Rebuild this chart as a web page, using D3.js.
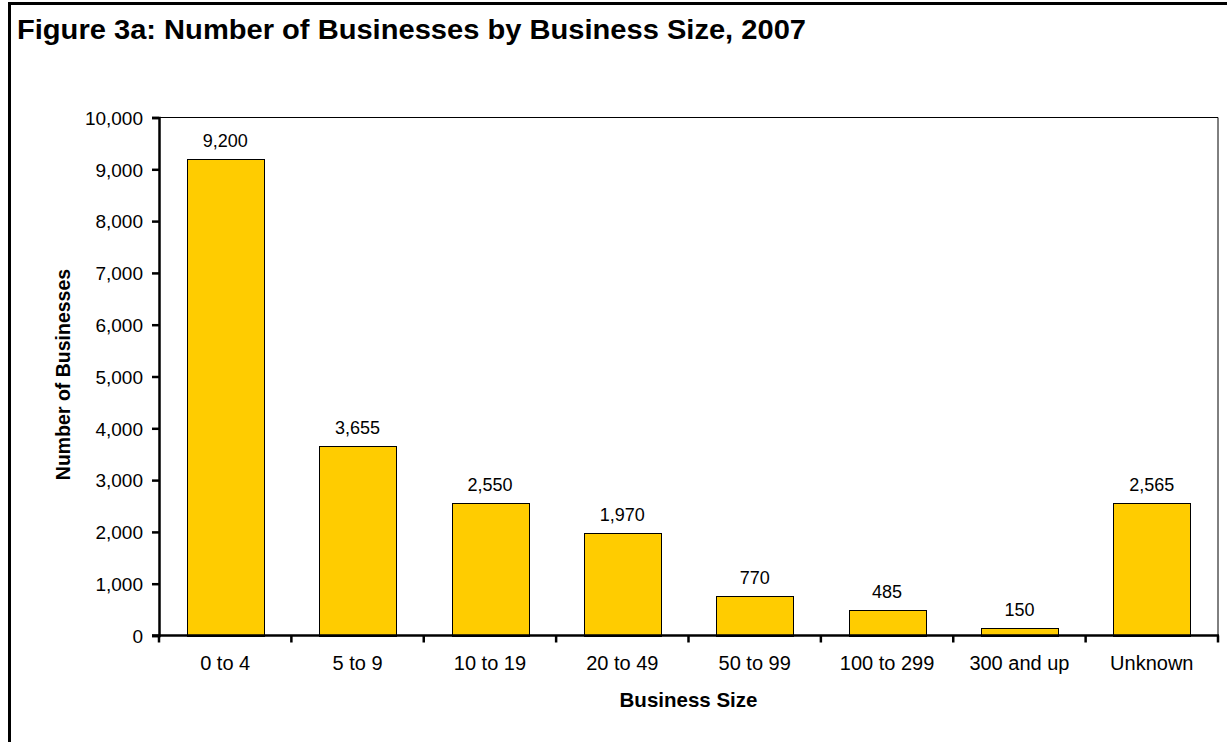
<!DOCTYPE html>
<html><head><meta charset="utf-8">
<script src="https://cdn.jsdelivr.net/npm/d3@7"></script>
<style>body{margin:0;background:#fff;}svg{display:block;font-family:"Liberation Sans",Arial,sans-serif;}</style>
</head><body>
<svg id="c" width="1227" height="742"></svg>
<script>
const categories = ["0 to 4","5 to 9","10 to 19","20 to 49","50 to 99","100 to 299","300 and up","Unknown"];
const values = [9200,3655,2550,1970,770,485,150,2565];
const yTicks = [0,1000,2000,3000,4000,5000,6000,7000,8000,9000,10000];
const titleText = "Figure 3a: Number of Businesses by Business Size, 2007";
const xTitle = "Business Size";
const yTitle = "Number of Businesses";

const svg = d3.select("#c");
const m = {l:159, r:1218, t:117.5, b:635.5};
const fmt = d3.format(",");

// outer frame
svg.append("rect").attr("x",9.5).attr("y",3.5).attr("width",1240).attr("height",760)
  .attr("fill","none").attr("stroke","#000").attr("stroke-width",3);

svg.append("text").attr("x",17).attr("y",39).attr("font-size",27).attr("font-weight","bold")
  .attr("textLength",789).attr("lengthAdjust","spacingAndGlyphs").text(titleText);

const x = d3.scaleBand().domain(categories).range([m.l,m.r]).paddingInner(0.42).paddingOuter(0.21);
const xb = d3.scaleBand().domain(categories).range([m.l,m.r]);
const y = d3.scaleLinear().domain([0,10000]).range([m.b,m.t]);

// plot area border top/right
svg.append("path").attr("d",`M${m.l},${m.t}H${m.r}V${m.b}`).attr("fill","none").attr("stroke","#000").attr("stroke-width",1);

svg.selectAll(".bar").data(values).join("rect")
  .attr("x",(d,i)=>Math.round(x(categories[i]))+0.5)
  .attr("y",d=>Math.round(y(d))+0.5)
  .attr("width",Math.round(x.bandwidth()))
  .attr("height",d=>Math.round(y(0))-Math.round(y(d)))
  .attr("fill","#FFCC00").attr("stroke","#000").attr("stroke-width",1);

svg.selectAll(".vl").data(values).join("text")
  .attr("x",(d,i)=>x(categories[i])+x.bandwidth()/2)
  .attr("y",d=>y(d)-12)
  .attr("text-anchor","middle").attr("font-size",18).text(d=>fmt(d));

// y axis
const ya = svg.append("g").attr("transform",`translate(${m.l},0)`)
  .call(d3.axisLeft(y).tickValues(yTicks).tickFormat(fmt).tickSize(7).tickPadding(9));
ya.select(".domain").attr("stroke-width",2.5);
ya.selectAll(".tick line").attr("stroke-width",2.5);
ya.selectAll("text").attr("font-size",19).attr("dy","0.36em").attr("font-family","Liberation Sans, Arial, sans-serif").attr("fill","#000");

// x axis with boundary ticks
const xa = svg.append("g").attr("transform",`translate(0,${m.b})`);
xa.append("line").attr("x1",m.l-7).attr("x2",m.r+1).attr("y1",0).attr("y2",0).attr("stroke","#000").attr("stroke-width",2.5);
const bounds = categories.map(c=>xb(c)).concat([m.r]);
xa.selectAll(".bt").data(bounds).join("line")
  .attr("x1",d=>d).attr("x2",d=>d).attr("y1",0).attr("y2",7).attr("stroke","#000").attr("stroke-width",2.5);
xa.selectAll(".xl").data(categories).join("text")
  .attr("x",d=>xb(d)+xb.bandwidth()/2).attr("y",34)
  .attr("text-anchor","middle").attr("font-size",20).text(d=>d);

svg.append("text").attr("x",(m.l+m.r)/2).attr("y",707).attr("text-anchor","middle")
  .attr("font-size",20.5).attr("font-weight","bold").text(xTitle);
svg.append("text").attr("transform",`translate(70,${(m.t+m.b)/2-2}) rotate(-90)`)
  .attr("text-anchor","middle").attr("font-size",19.5).attr("font-weight","bold").text(yTitle);
</script>
</body></html>
